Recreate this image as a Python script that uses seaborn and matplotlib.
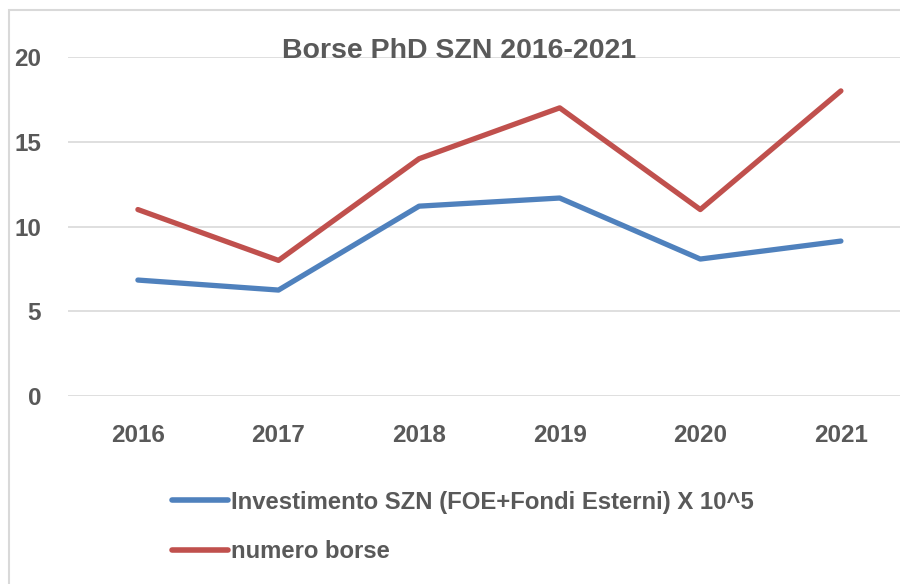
import pandas as pd
import matplotlib.pyplot as plt
import matplotlib.patches as mpatches
import seaborn as sns

# Data
anni = ["2016", "2017", "2018", "2019", "2020", "2021"]
investimento = [6.84, 6.25, 11.2, 11.68, 8.08, 9.14]
numero_borse = [11, 8, 14, 17, 11, 18]

label_inv = "Investimento SZN (FOE+Fondi Esterni) X 10^5"
label_borse = "numero borse"

df = pd.DataFrame({
    "anno": anni * 2,
    "valore": investimento + numero_borse,
    "serie": [label_inv] * len(anni) + [label_borse] * len(anni),
})

sns.set_style("white")
plt.rcParams['font.family'] = ['Liberation Sans', 'DejaVu Sans']
grey = "#595959"

fig = plt.figure(figsize=(9, 5.84), dpi=100)
ax = fig.add_axes([67.6 / 900, 1 - 396 / 584, 843.6 / 900, 339 / 584])

sns.lineplot(data=df, x="anno", y="valore", hue="serie",
             palette=["#4F81BD", "#C0504D"], linewidth=3.8,
             solid_capstyle="round", ax=ax, legend=False)

ax.set_xlim(-0.5, 5.5)
ax.set_ylim(0, 20)
ax.set_yticks([0, 5, 10, 15, 20])
ax.grid(axis="y", color="#d9d9d9", linewidth=1.2)
ax.set_axisbelow(True)
for s in ax.spines.values():
    s.set_visible(False)
ax.set_xlabel("")
ax.set_ylabel("")
ax.tick_params(axis="both", length=0, labelsize=17.5, labelcolor=grey)
ax.tick_params(axis="y", pad=19)
ax.tick_params(axis="x", pad=20)
for t in ax.get_xticklabels() + ax.get_yticklabels():
    t.set_fontweight("bold")

fig.text(459 / 900, 1 - 51 / 584, "Borse PhD SZN 2016-2021", ha="center",
         va="center", fontsize=20.5, fontweight="bold", color=grey)

# chart area border
fig.patches.append(mpatches.Rectangle((9 / 900, -0.1), 1.2, 1 - 10 / 584 + 0.1,
                                      transform=fig.transFigure, fill=False,
                                      edgecolor="#d9d9d9", linewidth=1.5))

handles = [plt.Line2D([], [], color="#4F81BD", linewidth=4, solid_capstyle="round"),
           plt.Line2D([], [], color="#C0504D", linewidth=4, solid_capstyle="round")]
leg = fig.legend(handles, [label_inv, label_borse], loc="upper left",
                 bbox_to_anchor=(150.5 / 900, 1 - 469 / 584), frameon=False,
                 handlelength=2.35, handletextpad=0.1, labelspacing=1.13,
                 prop={"weight": "bold", "size": 17.2})
for t in leg.get_texts():
    t.set_color(grey)

fig.savefig("out.png", dpi=100)
